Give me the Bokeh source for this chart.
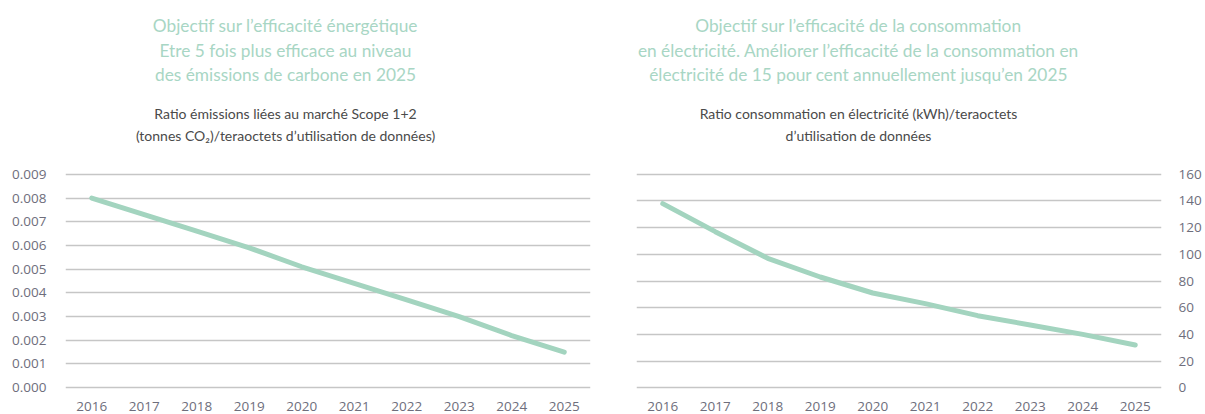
from bokeh.plotting import figure
from bokeh.layouts import row, column
from bokeh.models import FixedTicker, PrintfTickFormatter
from bokeh.core.properties import value
from bokeh.embed import file_html
from bokeh.resources import INLINE

# ---- data ----
years = [2016, 2017, 2018, 2019, 2020, 2021, 2022, 2023, 2024, 2025]
emissions_ratio = [0.0080, 0.0073, 0.0066, 0.0059, 0.0051, 0.0044, 0.0037, 0.0030, 0.0022, 0.0015]
electricity_ratio = [138, 117, 97, 83, 71, 63, 54, 47, 40, 32]

left_ticks = [0.000, 0.001, 0.002, 0.003, 0.004, 0.005, 0.006, 0.007, 0.008, 0.009]
right_ticks = [0, 20, 40, 60, 80, 100, 120, 140, 160]

left_title = ["Objectif sur l\u2019efficacit\u00e9 \u00e9nerg\u00e9tique",
              "Etre 5 fois plus efficace au niveau",
              "des \u00e9missions de carbone en 2025"]
left_sub = ["Ratio \u00e9missions li\u00e9es au march\u00e9 Scope 1+2",
            "(tonnes CO\u2082)/teraoctets d\u2019utilisation de donn\u00e9es)"]
right_title = ["Objectif sur l\u2019efficacit\u00e9 de la consommation",
               "en \u00e9lectricit\u00e9. Am\u00e9liorer l\u2019efficacit\u00e9 de la consommation en",
               "\u00e9lectricit\u00e9 de 15 pour cent annuellement jusqu\u2019en 2025"]
right_sub = ["Ratio consommation en \u00e9lectricit\u00e9 (kWh)/teraoctets",
             "d\u2019utilisation de donn\u00e9es"]

# ---- styles ----
LINE_COLOR = "#a3d4bf"
TITLE_COLOR = "#a8d6c4"
SUB_COLOR = "#4a4a4a"
TICK_COLOR = "#6e6e7c"
GRID_COLOR = "#c6c6c6"
TICK_FONT = "Open Sans"
TITLE_FONT = "Lato"

TITLE_H = 150
CHART_H = 264
TOP = 22
BOTTOM = 25
FRAME_H = CHART_H - TOP - BOTTOM
GRID_SPAN_PX = 213.4
PAD_PX = (FRAME_H - GRID_SPAN_PX) / 2.0


def title_fig(width, cx, title, sub):
    tf = figure(width=width, height=TITLE_H, x_range=(0, width), y_range=(TITLE_H, 0),
                x_axis_type=None, y_axis_type=None, output_backend="svg",
                toolbar_location=None, min_border=0)
    tf.outline_line_color = None
    tf.grid.grid_line_color = None
    tf.text(x=[cx] * 3, y=[25, 49.5, 74], text=title,
            text_align="center", text_baseline="middle",
            text_font=value(TITLE_FONT), text_font_size="17.3px",
            text_color=TITLE_COLOR)
    tf.text(x=[cx] * 2, y=[113, 135], text=sub,
            text_align="center", text_baseline="middle",
            text_font=value(TITLE_FONT), text_font_size="14px",
            text_color=SUB_COLOR)
    return tf


def style(p, ticks):
    p.outline_line_color = None
    p.xgrid.grid_line_color = None
    p.ygrid.grid_line_color = GRID_COLOR
    p.ygrid.grid_line_width = 1.5
    p.ygrid.ticker = FixedTicker(ticks=ticks)
    for ax in p.axis:
        ax.axis_line_color = None
        ax.major_tick_line_color = None
        ax.minor_tick_line_color = None
        ax.major_label_text_color = TICK_COLOR
        ax.major_label_text_font = TICK_FONT
        ax.major_label_text_font_size = "13.5px"
    p.xaxis.ticker = FixedTicker(ticks=years)
    p.xaxis.major_label_standoff = 6
    p.yaxis.ticker = FixedTicker(ticks=ticks)


# ---- left chart ----
lpad = 0.009 * PAD_PX / GRID_SPAN_PX
p1 = figure(width=600, height=CHART_H, x_range=(2015.5, 2025.5), y_range=(-lpad, 0.009 + lpad),
            output_backend="svg", toolbar_location=None,
            min_border_left=65, min_border_right=10, min_border_top=TOP, min_border_bottom=BOTTOM)
style(p1, left_ticks)
p1.yaxis.formatter = PrintfTickFormatter(format="%.3f")
p1.yaxis.major_label_standoff = 13
p1.line(years, emissions_ratio, line_color=LINE_COLOR, line_width=5, line_cap="round")

# ---- right chart ----
rpad = 160 * PAD_PX / GRID_SPAN_PX
p2 = figure(width=605, height=CHART_H, x_range=(2015.5, 2025.5), y_range=(-rpad, 160 + rpad),
            y_axis_location="right",
            output_backend="svg", toolbar_location=None,
            min_border_left=36, min_border_right=44, min_border_top=TOP, min_border_bottom=BOTTOM)
style(p2, right_ticks)
p2.yaxis.major_label_standoff = 11
p2.line(years, electricity_ratio, line_color=LINE_COLOR, line_width=5, line_cap="round")

t1 = title_fig(600, 285, left_title, left_sub)
t2 = title_fig(605, 258, right_title, right_sub)

layout = column(row(t1, t2), row(p1, p2))
open("out.html", "w").write(file_html(layout, INLINE))
